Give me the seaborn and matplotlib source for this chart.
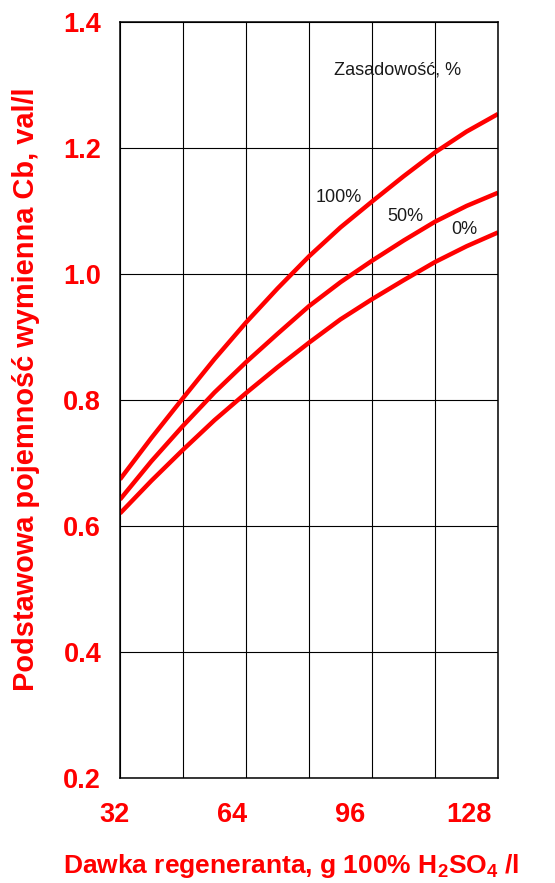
import matplotlib
matplotlib.use("Agg")
import matplotlib.pyplot as plt
import matplotlib.transforms as mtransforms
import numpy as np
import pandas as pd
import seaborn as sns

# Regenerant dose, g 100% H2SO4 per litre of resin
dose = [32, 40, 48, 56, 64, 72, 80, 88, 96, 104, 112, 120, 128]

# Base exchange capacity Cb (val/l) for each basicity level
cap_100 = [0.674, 0.740, 0.803, 0.865, 0.923, 0.977, 1.028, 1.074, 1.115, 1.155, 1.193, 1.226, 1.254]
cap_50 = [0.642, 0.703, 0.759, 0.812, 0.860, 0.905, 0.949, 0.987, 1.021, 1.053, 1.083, 1.108, 1.129]
cap_0 = [0.620, 0.672, 0.721, 0.768, 0.811, 0.852, 0.891, 0.928, 0.960, 0.990, 1.019, 1.044, 1.066]

series_names = ["100%", "50%", "0%"]
x_ticks = [32, 64, 96, 128]
y_ticks = [0.2, 0.4, 0.6, 0.8, 1.0, 1.2, 1.4]

df = pd.concat([
    pd.DataFrame({"dose": dose, "cap": vals, "basicity": name})
    for name, vals in zip(series_names, [cap_100, cap_50, cap_0])
])

sns.set_style("white")
plt.rcParams["font.family"] = ["Liberation Sans", "DejaVu Sans"]
plt.rcParams["mathtext.fontset"] = "custom"
plt.rcParams["mathtext.rm"] = "Liberation Sans:bold"
plt.rcParams["mathtext.bf"] = "Liberation Sans:bold"
plt.rcParams["mathtext.default"] = "rm"

RED = "#ff0000"

fig = plt.figure(figsize=(5.55, 8.83), dpi=100)
ax = fig.add_axes([120 / 555, 1 - 778 / 883, 378 / 555, 756 / 883])

sns.lineplot(data=df, x="dose", y="cap", hue="basicity", hue_order=series_names,
             palette=[RED, RED, RED], linewidth=3.2, legend=False, ax=ax,
             estimator=None, sort=False)
for ln in ax.get_lines():
    ln.set_solid_capstyle("butt")
    ln.set_solid_joinstyle("round")

ax.set_xlim(32, 128)
ax.set_ylim(0.2, 1.4)
ax.set_xticks(np.arange(32, 129, 16), minor=True)
ax.set_xticks(x_ticks)
ax.set_yticks(y_ticks)
ax.set_yticklabels([f"{v:.1f}" for v in y_ticks])
ax.set_xticklabels([str(v) for v in x_ticks])

ax.grid(True, which="both", axis="x", color="black", linewidth=0.8)
ax.grid(True, which="major", axis="y", color="black", linewidth=0.8)
ax.set_axisbelow(True)
for sp in ax.spines.values():
    sp.set_visible(True)
    sp.set_color("black")
    sp.set_linewidth(1.1)

ax.tick_params(axis="both", which="both", length=0, labelcolor=RED, labelsize=19.5)
ax.tick_params(axis="y", pad=13.5)
ax.tick_params(axis="x", pad=17)
for lab in ax.get_xticklabels() + ax.get_yticklabels():
    lab.set_fontweight("bold")

# x tick labels sit progressively to the left of their gridlines
shifts_px = [-6, -14, -21.5, -29]
for lab, dx in zip(ax.get_xticklabels(), shifts_px):
    lab.set_transform(lab.get_transform() +
                      mtransforms.ScaledTranslation(dx / 100, 0, fig.dpi_scale_trans))

ax.set_xlabel(r"Dawka regeneranta, g 100% H$_2$SO$_4$ /l", color=RED,
              fontsize=19, fontweight="bold")
ax.xaxis.set_label_coords(0.452, -0.1257)
ax.xaxis.label.set_verticalalignment("baseline")

ax.set_ylabel("Podstawowa pojemność wymienna Cb, val/l", color=RED,
              fontsize=20.9, fontweight="bold")
ax.yaxis.set_label_coords(-0.249, 0.5146)
ax.yaxis.label.set_verticalalignment("center")

TXT = "#1a1a1a"
ax.text(102.6, 1.324, "Zasadowość, %", fontsize=13, color=TXT, ha="center", va="center")
ax.text(87.6, 1.122, "100%", fontsize=13, color=TXT, ha="center", va="center")
ax.text(104.6, 1.092, "50%", fontsize=13, color=TXT, ha="center", va="center")
ax.text(119.4, 1.070, "0%", fontsize=13, color=TXT, ha="center", va="center")

fig.savefig("out.png", dpi=100)
